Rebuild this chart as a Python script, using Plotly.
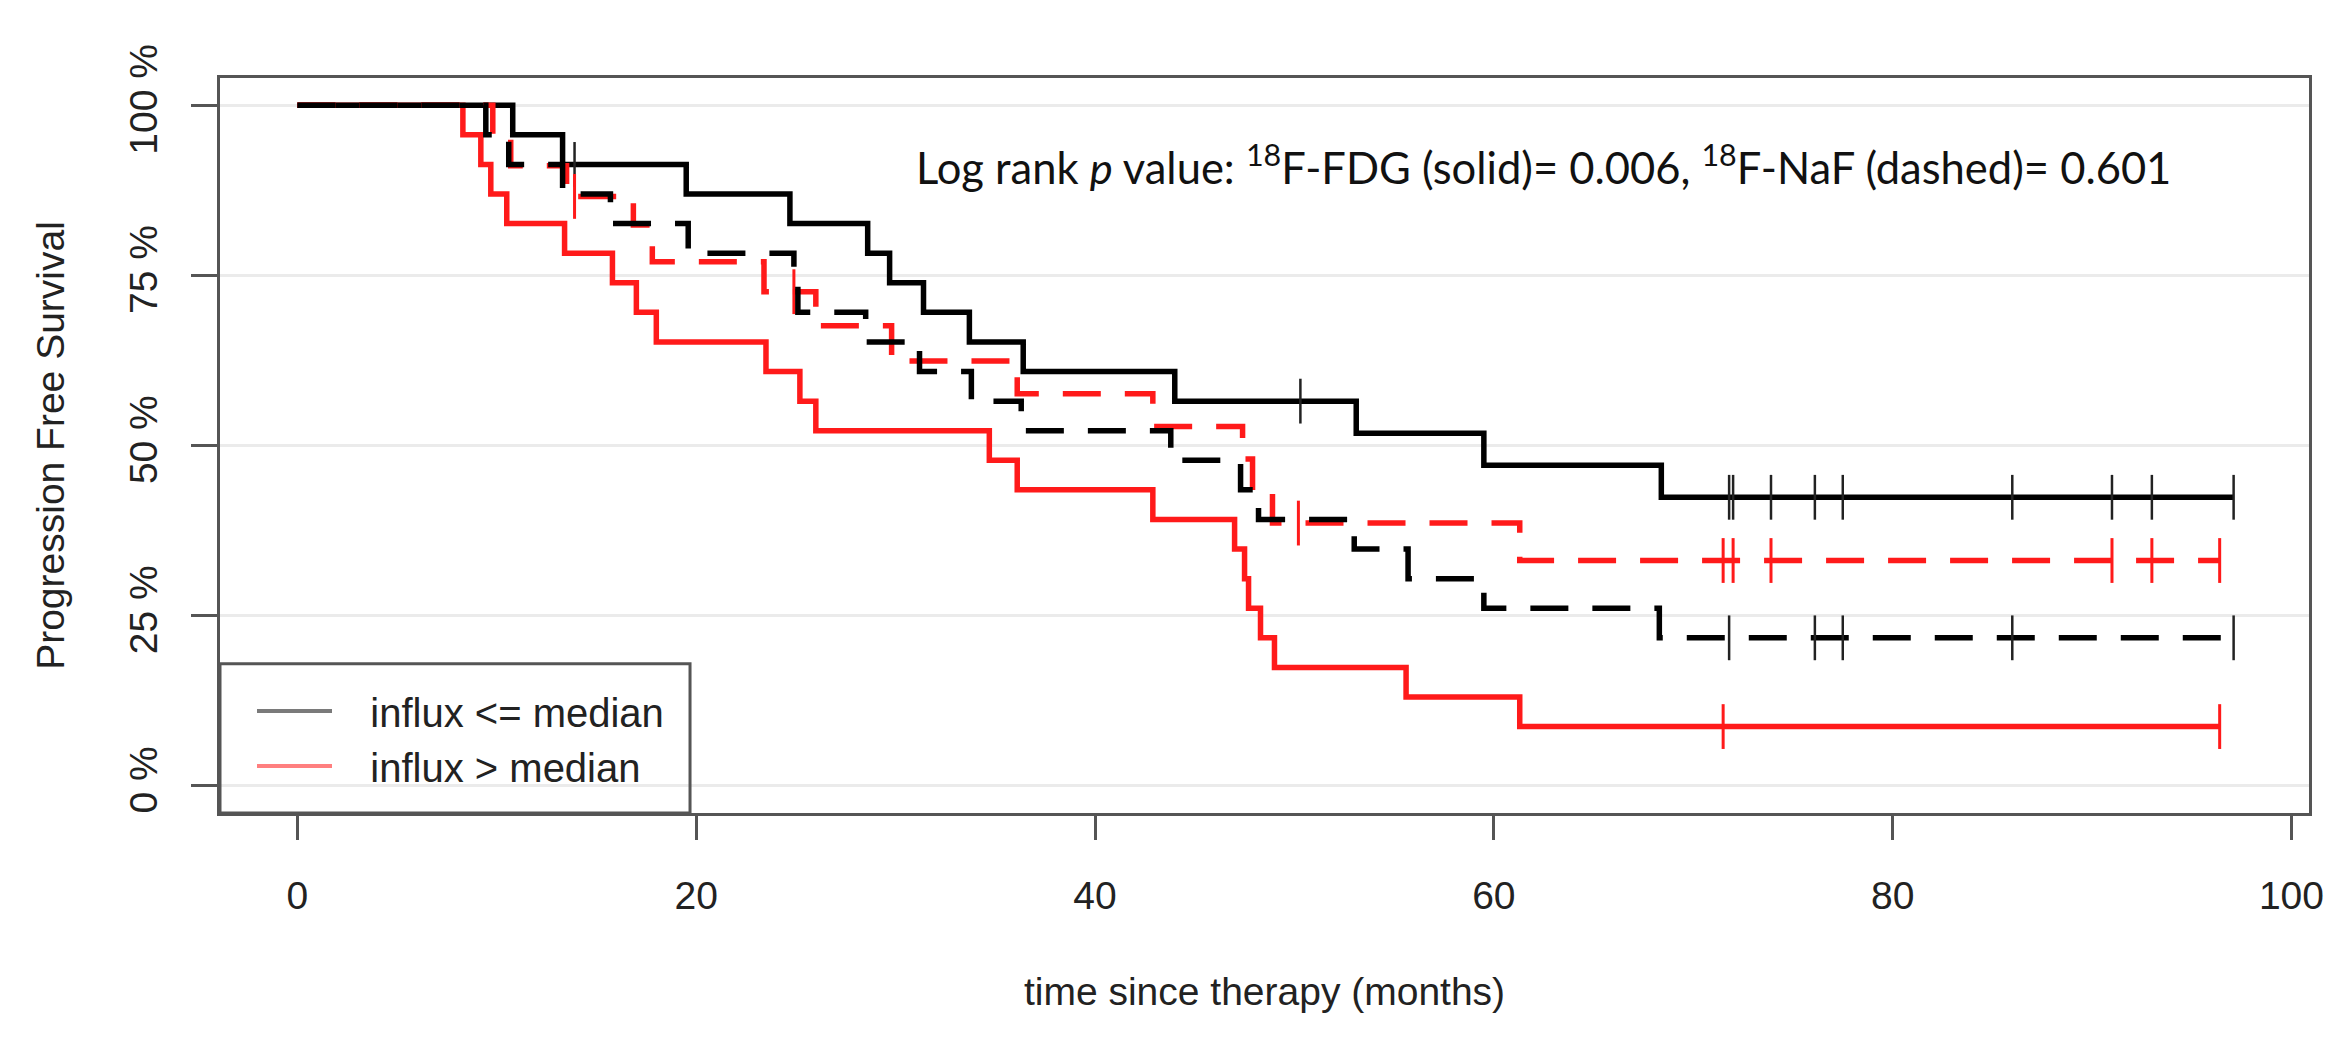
import plotly.graph_objects as go

# ---------------- data (time in months, survival in %) ----------------
# 18F-FDG (solid), influx <= median (black)
fdg_low_time = [0, 10.8, 13.3, 19.5, 24.7, 28.6, 29.7, 31.4, 33.7, 36.4, 44.0, 53.1, 59.5, 68.4, 97.1]
fdg_low_surv = [100, 95.65, 91.30, 86.96, 82.61, 78.26, 73.91, 69.57, 65.22, 60.87, 56.52, 51.81, 47.10, 42.39, 42.39]
fdg_low_cens = [13.9, 50.3, 71.8, 72.0, 73.9, 76.1, 77.5, 86.0, 91.0, 93.0, 97.1]

# 18F-FDG (solid), influx > median (red)
fdg_high_time = [0, 8.3, 9.2, 9.7, 10.5, 13.4, 15.8, 17.0, 18.0, 23.5, 25.2, 26.0, 34.7, 36.1,
                 42.9, 47.0, 47.5, 47.7, 48.3, 49.0, 55.6, 61.3, 96.4]
fdg_high_surv = [100, 95.65, 91.30, 86.96, 82.61, 78.26, 73.91, 69.57, 65.22, 60.87, 56.52, 52.17,
                 47.83, 43.48, 39.13, 34.78, 30.43, 26.09, 21.74, 17.39, 13.04, 8.70, 8.70]
fdg_high_cens = [71.5, 96.4]

# 18F-NaF (dashed), influx <= median (black)
naf_low_time = [0, 9.45, 10.6, 13.3, 15.7, 19.6, 24.9, 25.1, 28.5, 31.2, 33.8, 36.3, 43.8, 47.3,
                48.2, 53.0, 55.7, 59.5, 68.3, 97.1]
naf_low_surv = [100, 95.65, 91.30, 86.96, 82.61, 78.26, 73.91, 69.57, 65.22, 60.87, 56.52, 52.17,
                47.83, 43.48, 39.13, 34.78, 30.43, 26.09, 21.74, 21.74]
naf_low_cens = [71.8, 76.1, 77.5, 86.0, 97.1]

# 18F-NaF (dashed), influx > median (red)
naf_high_time = [0, 9.8, 10.7, 13.5, 16.85, 17.8, 23.4, 26.0, 29.8, 36.1, 42.9, 47.4, 47.9, 48.9, 61.3, 96.4]
naf_high_surv = [100, 95.5, 91.1, 86.6, 82.4, 77.0, 72.6, 67.6, 62.4, 57.6, 52.8, 48.0, 43.4, 38.6, 33.1, 33.1]
naf_high_cens = [13.9, 24.9, 50.2, 71.5, 72.0, 73.9, 91.0, 93.0, 96.4]

y_tick_vals = [0, 25, 50, 75, 100]
y_tick_text = ["0 %", "25 %", "50 %", "75 %", "100 %"]
x_tick_vals = [0, 20, 40, 60, 80, 100]

legend_labels = ["influx <= median", "influx > median"]
annotation_text = ("Log rank <i>p</i> value: <sup>18</sup>F-FDG (solid)= 0.006, "
                   "<sup>18</sup>F-NaF (dashed)= 0.601")


def level_at(t, times, surv):
    """Survival level of a step curve at time t (lookup on the read values)."""
    val = surv[0]
    for ti, si in zip(times, surv):
        if ti <= t:
            val = si
    return val


BLACK = "#000000"
RED = "#ff1a1a"
DASH = "38px,24px"
LW = 5.5

fig = go.Figure()

curves = [
    (fdg_high_time, fdg_high_surv, fdg_high_cens, RED, "solid"),
    (fdg_low_time, fdg_low_surv, fdg_low_cens, BLACK, "solid"),
    (naf_high_time, naf_high_surv, naf_high_cens, RED, DASH),
    (naf_low_time, naf_low_surv, naf_low_cens, BLACK, DASH),
]

for times, surv, cens, color, dash in curves:
    fig.add_trace(go.Scatter(
        x=times, y=surv, mode="lines", showlegend=False, hoverinfo="skip",
        line=dict(shape="hv", color=color, width=LW, dash=dash),
    ))
    fig.add_trace(go.Scatter(
        x=cens, y=[level_at(c, times, surv) for c in cens], mode="markers",
        showlegend=False, hoverinfo="skip",
        marker=dict(symbol="line-ns", size=32, color=color,
                    line=dict(width=2.5 if color == BLACK else 3,
                              color="#222222" if color == BLACK else color)),
    ))

# legend entries (leading spaces reproduce the gap between line sample and label)
for name, col in zip(legend_labels, ["#7a7a7a", "#ff7f7f"]):
    fig.add_trace(go.Scatter(x=[None], y=[None], mode="lines", name="\u00a0\u00a0\u00a0" + name,
                             line=dict(color=col, width=4)))

fig.add_annotation(
    x=30.9, y=91.3, xref="x", yref="y", xanchor="left", yanchor="middle",
    text=annotation_text, showarrow=False,
    font=dict(family="Lato", size=43.5, color="#111111"),
)

# legend frame
fig.add_shape(type="rect", xref="x domain", yref="y domain", x0=0, x1=0.225, y0=0, y1=0.203,
              line=dict(color="#555555", width=3), fillcolor="rgba(0,0,0,0)", layer="above")

AXFONT = dict(family="Liberation Sans, Arial, sans-serif", size=39, color="#222222")

fig.update_layout(
    width=2346, height=1052,
    margin=dict(l=220, r=37, t=78, b=239, pad=0),
    paper_bgcolor="white", plot_bgcolor="white",
    font=AXFONT,
    showlegend=True,
    legend=dict(x=(252 - 220) / 2089, y=0.183, xanchor="left", yanchor="top",
                bgcolor="rgba(0,0,0,0)", borderwidth=0, tracegroupgap=0,
                itemwidth=75,
                font=dict(family="Liberation Sans, Arial, sans-serif", size=40, color="#222222")),
    xaxis=dict(
        range=[-3.88, 100.88], tickvals=x_tick_vals, ticks="outside", ticklen=24,
        tickwidth=3, tickcolor="#555555", showgrid=False, zeroline=False,
        showline=True, linecolor="#555555", linewidth=3, mirror=True,
        tickfont=AXFONT, ticklabelstandoff=22,
        title=dict(text="time since therapy (months)", font=AXFONT, standoff=62),
    ),
    yaxis=dict(
        range=[-4, 104], tickvals=y_tick_vals, ticktext=y_tick_text, tickangle=-90,
        ticks="outside", ticklen=26, tickwidth=3, tickcolor="#555555",
        showgrid=True, gridcolor="#ebebeb", gridwidth=3, zeroline=False,
        showline=True, linecolor="#555555", linewidth=3, mirror=True,
        tickfont=AXFONT, ticklabelstandoff=18,
        title=dict(text="Progression Free Survival", font=AXFONT, standoff=46),
    ),
)

fig.write_html("out.html", config={"displayModeBar": False},
               post_script="document.body.style.margin='0px';")
